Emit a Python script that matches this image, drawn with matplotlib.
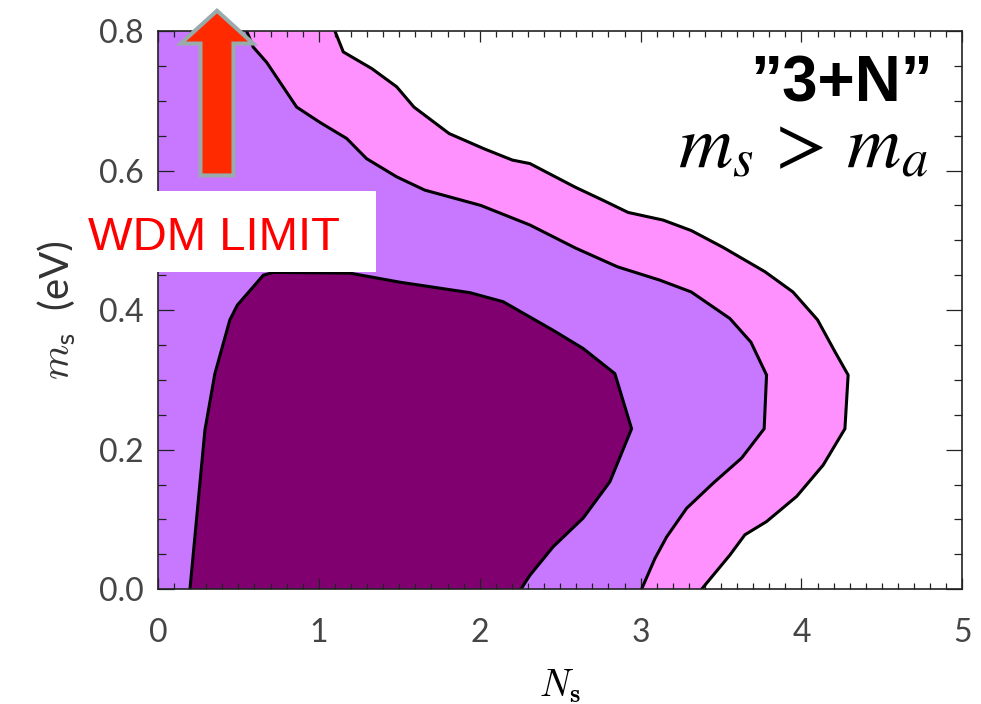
import numpy as np
import matplotlib
matplotlib.use('Agg')
from matplotlib import pyplot as plt
from matplotlib.patches import FancyArrow, Rectangle

# contour boundaries (N_s, m_s in eV)
ns_68 = [0.199, 0.292, 0.354, 0.447, 0.493, 0.572, 0.655, 0.717, 1.193, 1.504,
         1.939, 2.146, 2.457, 2.643, 2.840, 2.944, 2.809, 2.643, 2.457, 2.312, 2.256]
ms_68 = [0.000, 0.228, 0.309, 0.386, 0.407, 0.428, 0.450, 0.454, 0.453, 0.440,
         0.425, 0.412, 0.371, 0.345, 0.309, 0.230, 0.154, 0.102, 0.061, 0.020, 0.000]

ns_95 = [0.551, 0.592, 0.676, 0.862, 1.007, 1.173, 1.297, 1.484, 1.658, 2.007,
         2.312, 2.595, 2.857, 3.119, 3.315, 3.555, 3.686, 3.783, 3.768, 3.628,
         3.451, 3.286, 3.162, 3.089, 3.006]
ms_95 = [0.800, 0.777, 0.755, 0.691, 0.669, 0.646, 0.617, 0.591, 0.572, 0.550,
         0.522, 0.489, 0.462, 0.443, 0.426, 0.388, 0.354, 0.307, 0.230, 0.188,
         0.152, 0.116, 0.075, 0.044, 0.000]

ns_99 = [1.100, 1.152, 1.330, 1.484, 1.591, 1.810, 2.029, 2.203, 2.312, 2.595,
         2.770, 2.922, 3.140, 3.315, 3.512, 3.773, 3.947, 4.100, 4.209, 4.290,
         4.270, 4.135, 3.970, 3.783, 3.648, 3.555, 3.379]
ms_99 = [0.800, 0.770, 0.746, 0.720, 0.691, 0.653, 0.631, 0.615, 0.610, 0.576,
         0.557, 0.540, 0.529, 0.514, 0.490, 0.455, 0.426, 0.386, 0.340, 0.307,
         0.230, 0.178, 0.133, 0.097, 0.078, 0.049, 0.000]

X_TICKS = [0, 1, 2, 3, 4, 5]
X_TICK_LABELS = ['0', '1', '2', '3', '4', '5']
Y_TICKS = [0.0, 0.2, 0.4, 0.6, 0.8]
Y_TICK_LABELS = ['0.0', '0.2', '0.4', '0.6', '0.8']

C_68 = '#800070'
C_95 = '#c778ff'
C_99 = '#ff91ff'

plt.rcParams['font.family'] = ['Lato', 'DejaVu Sans']

fig = plt.figure(figsize=(9.81, 7.04), dpi=100)
ax = fig.add_axes([0.161, 0.163, 0.820, 0.793])

# filled regions, outermost first
ax.fill([0] + ns_99 + [0], [0.8] + ms_99 + [0], color=C_99, lw=0)
ax.fill([0] + ns_95 + [0], [0.8] + ms_95 + [0], color=C_95, lw=0)
ax.fill(ns_68, ms_68, color=C_68, lw=0)

for xs, ys in [(ns_99, ms_99), (ns_95, ms_95), (ns_68, ms_68)]:
    ax.plot(xs, ys, color='black', lw=2.2, solid_joinstyle='miter')

ax.set_xlim(0, 5)
ax.set_ylim(0, 0.8)
ax.set_xticks(X_TICKS)
ax.set_xticklabels(X_TICK_LABELS)
ax.set_xticks(np.arange(0, 5.01, 0.1), minor=True)
ax.set_yticks(Y_TICKS)
ax.set_yticklabels(Y_TICK_LABELS)
ax.set_yticks(np.arange(0, 0.801, 0.05), minor=True)

ax.tick_params(which='both', direction='in', top=True, right=True,
               color='#222222', width=0.9, labelsize=23, labelcolor='#454545')
ax.tick_params(axis='x', which='major', length=8, pad=21)
ax.tick_params(axis='x', which='minor', length=4)
ax.tick_params(axis='y', which='major', length=11.5, pad=10)
ax.tick_params(axis='y', which='minor', length=5.8)
for sp in ax.spines.values():
    sp.set_linewidth(1.2)
    sp.set_color('#222222')

ax.set_xlabel(r'$N_{\mathbf{s}}$', fontsize=27, math_fontfamily='cm',
              labelpad=14)
ax.set_ylabel(r'$m_{\mathsf{s}}$  (eV)', fontsize=29, math_fontfamily='cm',
              color='#333333', labelpad=15)

# WDM limit arrow
arrow = FancyArrow(0.367, 0.593, 0, 0.236, width=0.205, head_width=0.45,
                   head_length=0.047, length_includes_head=True,
                   facecolor='#ff2a00', edgecolor='#9aabab', lw=2.9,
                   joinstyle='miter', clip_on=False, zorder=10)
ax.add_patch(arrow)

fig.patches.append(Rectangle((72 / 981, 1 - 272 / 704), 304 / 981, 81 / 704,
                             transform=fig.transFigure, facecolor='white',
                             edgecolor='none', zorder=5))
fig.text(88 / 981, 1 - 250 / 704, 'WDM LIMIT', color='#ff0000', fontsize=34,
         family='Liberation Sans', ha='left', va='baseline', zorder=6)

fig.text(933 / 981, 1 - 102 / 704, '\u201d3+N\u201d', fontsize=46,
         fontweight='bold', family='Liberation Sans', ha='right',
         va='baseline', zorder=6)
fig.text(928 / 981, 1 - 168 / 704, r'$m_{s}\, >\, m_{a}$', fontsize=54,
         math_fontfamily='stix', ha='right', va='baseline', zorder=6)

fig.savefig('out.png', dpi=100)
